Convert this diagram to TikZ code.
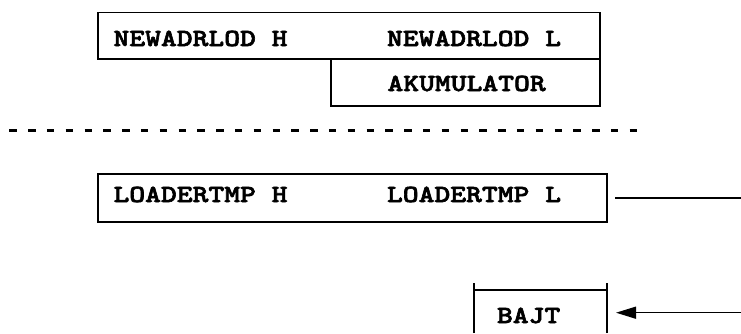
\documentclass[tikz,border=0pt]{standalone}
\usepackage{fontspec}
\usetikzlibrary{arrows.meta}

% slab-serif typewriter bold, widened to a wide typewriter pitch
\newfontfamily\regfont{lmmonolt10-bold.otf}[FakeStretch=1.225, FakeBold=2.5]

\tikzset{
  regbox/.style={draw=black, line width=1.2pt, inner sep=0pt, outer sep=0pt},
  regtext/.style={inner sep=0pt, outer sep=0pt, anchor=base west,
    font=\fontsize{24.6pt}{28pt}\selectfont\regfont},
  wire/.style={draw=black, line width=1.4pt},
  feed/.style={wire, -{Triangle[length=20pt,width=12pt]}},
  divider/.style={draw=black, line width=3.6pt, dash pattern=on 7.4pt off 11.4pt}
}

\begin{document}
\begin{tikzpicture}[x=1pt, y=-1pt]
  \useasboundingbox (0,0) rectangle (741,333);

  % register pair and accumulator above the divider
  \node[regbox, minimum width=502pt, minimum height=46.3pt] (newadr) at (349,35.85) {};
  \node[regbox, minimum width=269pt, minimum height=47pt] (akum) at (465.5,82.5) {};
  \node[regtext] (newadrH) at (113.5,46) {NEWADRLOD H};
  \node[regtext] (newadrL) at (387,46) {NEWADRLOD L};
  \node[regtext] (akumT) at (387.5,91) {AKUMULATOR};

  % divider
  \draw[divider] (9.3,130.5) -- (637,130.5);

  % temporary loader register
  \node[regbox, minimum width=509pt, minimum height=48pt] (loader) at (352.5,198) {};
  \node[regtext] (loaderH) at (113.5,202) {LOADERTMP H};
  \node[regtext] (loaderL) at (387,202) {LOADERTMP L};

  % byte cell, open at the bottom
  \node[inner sep=0pt, outer sep=0pt, minimum width=133pt, minimum height=43pt] (bajt) at (540.5,312.7) {};
  \draw[line width=1.2pt] (474,333) -- (474,283);
  \draw[line width=1.2pt] (607,333) -- (607,283);
  \draw[line width=1.2pt] (474,290) -- (607,290);
  \node[regtext] (bajtT) at (497,323) {BAJT};

  % connectors
  \coordinate (loaderOut) at (741,198);
  \coordinate (bajtIn) at (741,312.7);
  \draw[wire, shorten <=8pt] (loader.east) -- (loaderOut);
  \draw[feed, shorten >=9pt] (bajtIn) -- (bajt.east);
\end{tikzpicture}
\end{document}
